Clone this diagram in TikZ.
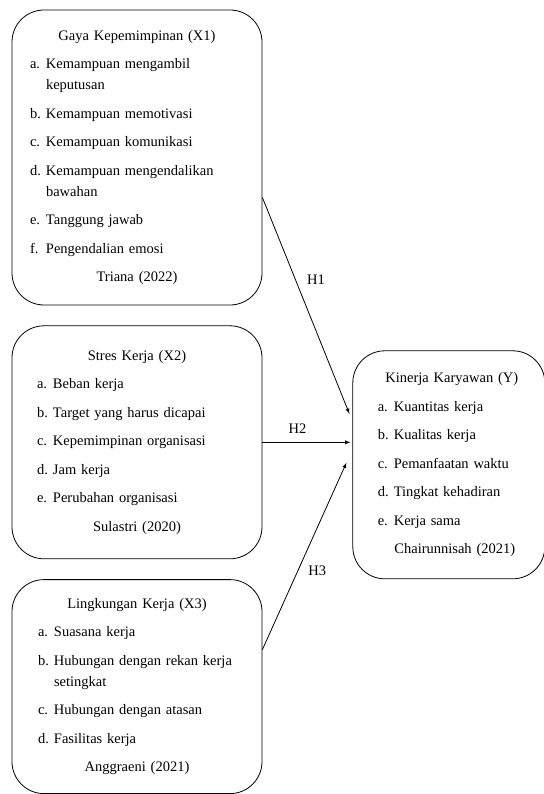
\documentclass[tikz,border=0pt]{standalone}
\usepackage{fontspec}
\setmainfont{Liberation Serif}
\usetikzlibrary{positioning, arrows}

\newcommand{\judul}[1]{{\centering #1\par}}
\newcommand{\butir}[2]{\hangindent=16pt\hangafter=1\noindent\makebox[16pt][l]{#1}#2\par}

\tikzset{
    kotak/.style={draw, rectangle, rounded corners=32pt, line width=0.8pt,
        align=left, inner ysep=0pt,
        font=\fontsize{14.5}{21}\selectfont,
        execute at begin node={\setlength{\parskip}{7.5pt}}},
    panah/.style={->, >=latex, line width=0.8pt},
    label H/.style={font=\fontsize{14.5}{17}\selectfont}
}

\begin{document}
\begin{tikzpicture}[x=1pt, y=1pt]
                \useasboundingbox (0,0) rectangle (543,-794);

                \node[kotak, text width=214pt, inner xsep=18pt, minimum height=295pt] (X1) at (137,-157.5) {
                    \judul{Gaya Kepemimpinan (X1)}
                    \butir{a.}{Kemampuan mengambil\newline keputusan}
                    \butir{b.}{Kemampuan memotivasi}
                    \butir{c.}{Kemampuan komunikasi}
                    \butir{d.}{Kemampuan mengendalikan\newline bawahan}
                    \butir{e.}{Tanggung jawab}
                    \butir{f.}{Pengendalian emosi}
                    \judul{Triana (2022)}};
                \node[kotak, text width=200pt, inner xsep=25pt, minimum height=233pt, below=20pt of X1] (X2) {
                    \judul{Stres Kerja (X2)}
                    \butir{a.}{Beban kerja}
                    \butir{b.}{Target yang harus dicapai}
                    \butir{c.}{Kepemimpinan organisasi}
                    \butir{d.}{Jam kerja}
                    \butir{e.}{Perubahan organisasi}
                    \judul{Sulastri (2020)}};
                \node[kotak, text width=198pt, inner xsep=26pt, minimum height=214pt, below=20pt of X2] (X3) {
                    \judul{Lingkungan Kerja (X3)}
                    \butir{a.}{Suasana kerja}
                    \butir{b.}{Hubungan dengan rekan kerja\newline setingkat}
                    \butir{c.}{Hubungan dengan atasan}
                    \butir{d.}{Fasilitas kerja}
                    \judul{Anggraeni (2021)}};
                \node[kotak, text width=142pt, inner xsep=25pt, minimum height=228pt, right=90pt of X2, yshift=-22.5pt] (Y) {
                    \judul{\hspace*{6pt}Kinerja Karyawan (Y)}
                    \butir{a.}{Kuantitas kerja}
                    \butir{b.}{Kualitas kerja}
                    \butir{c.}{Pemanfaatan waktu}
                    \butir{d.}{Tingkat kehadiran}
                    \butir{e.}{Kerja sama}
                    \judul{\hspace*{12pt}Chairunnisah (2021)}};

                \draw[panah] ([yshift=-40pt]X1.east) -- node[pos=0.38, right=8pt, label H] {H1} ([xshift=-3pt, yshift=51pt]Y.west);
                \draw[panah] (X2.east) -- node[pos=0.4, above=5pt, label H] {H2} ([xshift=-2pt, yshift=22.5pt]Y.west);
                \draw[panah] ([yshift=37pt]X3.east) -- node[pos=0.42, right=7pt, label H] {H3} ([xshift=-6pt, yshift=2pt]Y.west);
            \end{tikzpicture}
\end{document}
